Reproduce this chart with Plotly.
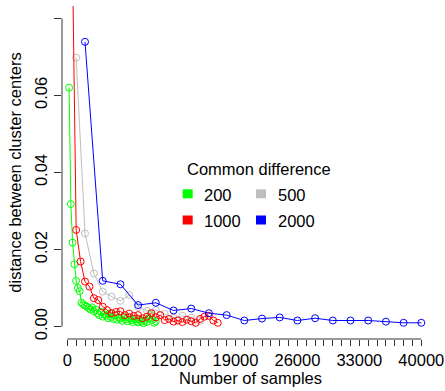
import plotly.graph_objects as go

# ---------------- data ----------------
green_x = list(range(200, 10001, 200))
green_y = [0.062, 0.0318, 0.0218, 0.0162, 0.0119, 0.0100, 0.0092, 0.0062, 0.0058, 0.0055,
           0.0052, 0.0048, 0.0045, 0.0050, 0.0040, 0.0044, 0.0035, 0.0030, 0.0038, 0.0026,
           0.0032, 0.0028, 0.0022, 0.0034, 0.0025, 0.0020, 0.0030, 0.0018, 0.0024, 0.0021,
           0.0015, 0.0026, 0.0019, 0.0014, 0.0022, 0.0017, 0.0012, 0.0020, 0.0015, 0.0011,
           0.0018, 0.0013, 0.0009, 0.0016, 0.0012, 0.0022, 0.0030, 0.0018, 0.0010, 0.0014]

red_x = list(range(500, 17001, 500))
red_y = [0.109, 0.0251, 0.0169, 0.0117, 0.0104, 0.0074, 0.0069, 0.0052, 0.0043, 0.0035,
         0.0038, 0.0040, 0.0030, 0.0034, 0.0028, 0.0030, 0.0022, 0.0026, 0.0035, 0.0024,
         0.0030, 0.0017, 0.0020, 0.0013, 0.0016, 0.0012, 0.0018, 0.0014, 0.0010, 0.0020,
         0.0026, 0.0028, 0.0016, 0.0010]

grey_x = list(range(1000, 15001, 1000))
grey_y = [0.0698, 0.0242, 0.0138, 0.0091, 0.0078, 0.0067, 0.0082, 0.0051, 0.0041, 0.0043,
          0.0033, 0.0023, 0.0028, 0.0023, 0.0015]

blue_x = list(range(2000, 40001, 2000))
blue_y = [0.0739, 0.0119, 0.0110, 0.0056, 0.0062, 0.0042, 0.0047, 0.0035, 0.0030, 0.0016,
          0.0021, 0.0024, 0.0016, 0.0022, 0.0016, 0.0016, 0.0016, 0.0013, 0.0010, 0.0010]

legend_title = "Common difference"
legend_labels = ["200", "500", "1000", "2000"]

x_tick_vals = list(range(0, 40001, 1000))
x_tick_labels_shown = {0: "0", 5000: "5000", 12000: "12000", 19000: "19000",
                       26000: "26000", 33000: "33000", 40000: "40000"}
y_tick_vals = [0.00, 0.02, 0.04, 0.06, 0.08]
y_tick_text = ["0.00", "0.02", "0.04", "0.06", "0.08"]

# ---------------- style ----------------
GREEN, RED, GREY, BLUE = "#00FF00", "#FF0000", "#BEBEBE", "#0000FF"
FONT = "Liberation Sans, Arial, sans-serif"
FS = 16.5

W, H = 445, 391
L, R, T, B = 62, 6, 6, 52
PW, PH = W - L - R, H - T - B


def px(p):
    return (p - L) / PW


def py(p):
    return (H - B - p) / PH


fig = go.Figure()
for xs, ys, col in [(green_x, green_y, GREEN), (grey_x, grey_y, GREY),
                    (red_x, red_y, RED), (blue_x, blue_y, BLUE)]:
    fig.add_trace(go.Scatter(
        x=xs, y=ys, mode="lines+markers",
        line=dict(color=col, width=1),
        marker=dict(symbol="circle-open", size=7, color=col, line=dict(width=1, color=col)),
        showlegend=False, cliponaxis=True))

fig.update_layout(
    width=W, height=H,
    margin=dict(l=L, r=R, t=T, b=B, pad=0, autoexpand=False),
    paper_bgcolor="white", plot_bgcolor="white",
    font=dict(family=FONT, size=FS, color="black"),
    showlegend=False,
    xaxis=dict(
        range=[-600, 42000], showgrid=False, zeroline=False, showline=False,
        automargin=False,
        tickmode="array", tickvals=x_tick_vals,
        ticktext=[x_tick_labels_shown.get(v, "") for v in x_tick_vals],
        ticks="outside", ticklen=6, tickwidth=1, tickcolor="#333333",
        tickangle=0,
        title=dict(text="Number of samples", standoff=3, font=dict(size=FS)),
    ),
    yaxis=dict(
        range=[-0.0032, 0.0832], showgrid=False, zeroline=False, showline=False,
        automargin=False,
        tickmode="array", tickvals=y_tick_vals, ticktext=y_tick_text,
        ticks="outside", ticklen=7, tickwidth=1, tickcolor="#333333",
        tickangle=-90,
        title=dict(text="distance between cluster centers", standoff=6, font=dict(size=FS)),
    ),
)

# R-style axis lines spanning first to last tick
fig.add_shape(type="line", xref="x", yref="paper", x0=0, x1=40000, y0=0, y1=0,
              line=dict(color="#333333", width=1))
fig.add_shape(type="line", xref="paper", yref="y", x0=0, x1=0, y0=0, y1=0.08,
              line=dict(color="#333333", width=1))

# legend (manual, R style)
sq = [(GREEN, 182.7, 189.3), (GREY, 256.0, 189.3), (RED, 182.7, 215.5), (BLUE, 256.0, 215.5)]
for col, x0, y0 in sq:
    fig.add_shape(type="rect", xref="paper", yref="paper",
                  x0=px(x0), x1=px(x0 + 10), y0=py(y0 + 9), y1=py(y0),
                  line=dict(width=0), fillcolor=col)
label_pos = [(203.3, 195), (277.3, 195), (203.3, 221), (277.3, 221)]
for text, (lx, ly) in zip(legend_labels, label_pos):
    fig.add_annotation(text=text, xref="paper", yref="paper", x=px(lx), y=py(ly),
                       xanchor="left", yanchor="middle", showarrow=False,
                       font=dict(size=FS, color="black"), borderpad=0)
fig.add_annotation(text=legend_title, xref="paper", yref="paper", x=px(186.0), y=py(169),
                   xanchor="left", yanchor="middle", showarrow=False,
                   font=dict(size=FS, color="black"), borderpad=0)

fig.write_html("out.html",
               config={"displayModeBar": False},
               post_script="document.body.style.margin='0';document.body.style.overflow='hidden';")
